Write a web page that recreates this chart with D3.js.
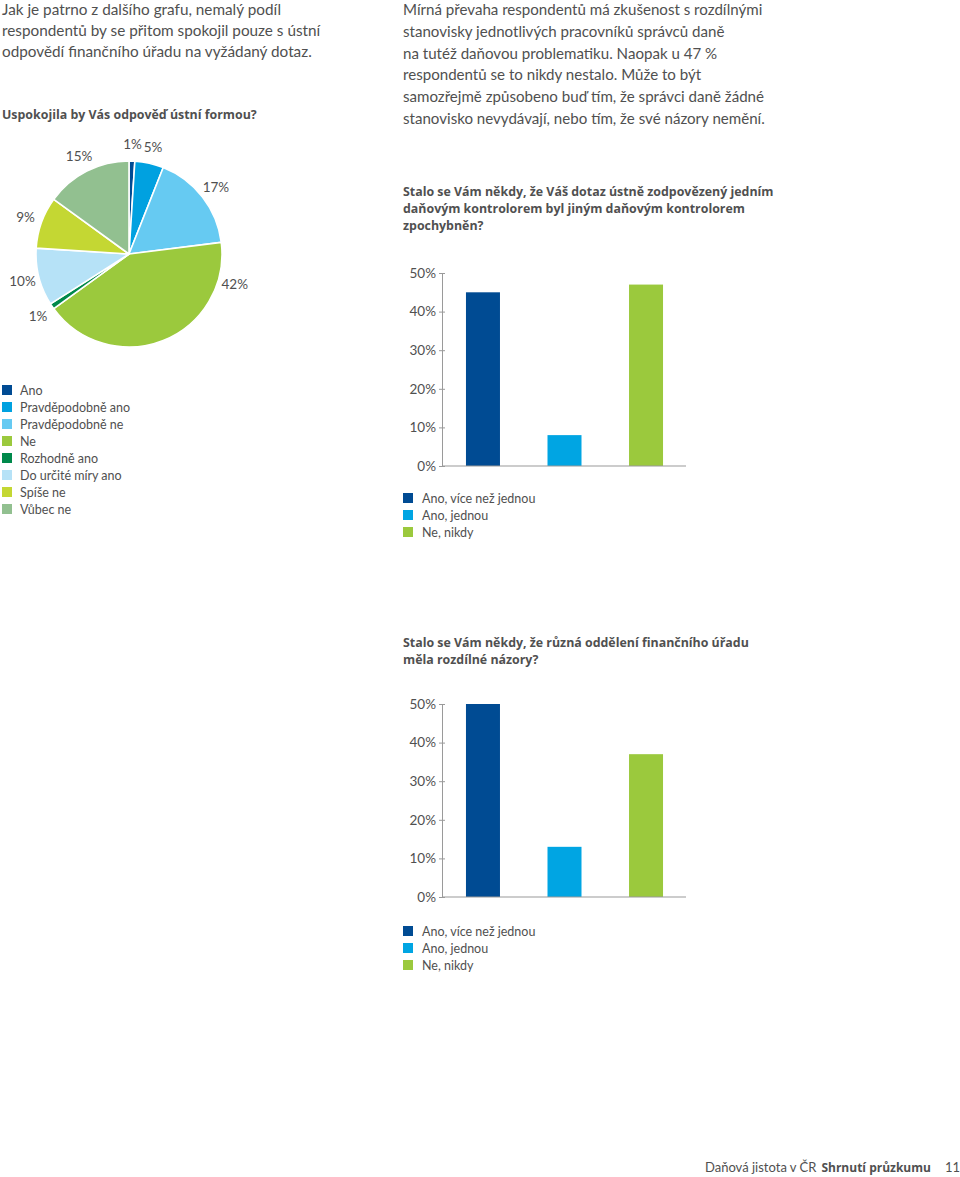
<!DOCTYPE html>
<html><head><meta charset="utf-8">
<script src="https://cdn.jsdelivr.net/npm/d3@7"></script>
<style>
body{margin:0;background:#fff;}
svg{display:block;font-family:Lato,"Open Sans",sans-serif;}
</style></head>
<body>
<svg id="c" width="960" height="1177"></svg>
<script>
// ---- data ----
const pieCategories = ["Ano","Pravděpodobně ano","Pravděpodobně ne","Ne","Rozhodně ano","Do určité míry ano","Spíše ne","Vůbec ne"];
const pieValues = [1,5,17,42,1,10,9,15];
const barCategories = ["Ano, více než jednou","Ano, jednou","Ne, nikdy"];
const bar1Values = [45,8,47];
const bar2Values = [50,13,37];
const yTickValues = [0,10,20,30,40,50];

const introLeft = ["Jak je patrno z dalšího grafu, nemalý podíl","respondentů by se přitom spokojil pouze s ústní","odpovědí finančního úřadu na vyžádaný dotaz."];
const pieTitle = "Uspokojila by Vás odpověď ústní formou?";
const introRight = ["Mírná převaha respondentů má zkušenost s rozdílnými","stanovisky jednotlivých pracovníků správců daně","na tutéž daňovou problematiku. Naopak u 47 %","respondentů se to nikdy nestalo. Může to být","samozřejmě způsobeno buď tím, že správci daně žádné","stanovisko nevydávají, nebo tím, že své názory nemění."];
const bar1Title = ["Stalo se Vám někdy, že Váš dotaz ústně zodpovězený jedním","daňovým kontrolorem byl jiným daňovým kontrolorem","zpochybněn?"];
const bar2Title = ["Stalo se Vám někdy, že různá oddělení finančního úřadu","měla rozdílné názory?"];

// ---- styles ----
const pieColors = ["#004b93","#00a1e0","#66caf2","#9bc93d","#00894b","#b6e2f7","#c4d733","#92c090"];
const barColors = ["#004b93","#00a5e3","#9bc93d"];
const textColor = "#505050";
const boldFont = '"Open Sans","Noto Sans",sans-serif';
const labelAngleOverride = [null,null,null,106,null,null,null,null]; // degrees

const svg = d3.select("#c");

function textLines(lines, x, y0, dy, size, weight){
  const g = svg.append("g");
  lines.forEach((t,i)=>{
    const tx = g.append("text").attr("x",x).attr("y",y0+i*dy).attr("font-size",size)
      .attr("font-weight",weight).attr("fill",textColor).text(t);
    if (weight===700) tx.attr("font-family",boldFont);
  });
  return g;
}

textLines(introLeft, 2, 15, 21, 15.3, 400);
textLines([pieTitle], 2, 119, 17, 12.4, 700);
textLines(introRight, 403, 15, 21.8, 15.1, 400);

// ---- pie ----
const cx = 129, cy = 254, R = 93;
const pie = d3.pie().sort(null).value(d=>d)(pieValues);
const arc = d3.arc().innerRadius(0).outerRadius(R);
const pg = svg.append("g").attr("transform",`translate(${cx},${cy})`);
pg.selectAll("path").data(pie).join("path")
  .attr("d",arc).attr("fill",(d,i)=>pieColors[i])
  .attr("stroke","#fff").attr("stroke-width",1.6).attr("stroke-linejoin","round");
pg.selectAll("text").data(pie).join("text")
  .attr("transform",(d,i)=>{
    const a = labelAngleOverride[i]!=null ? labelAngleOverride[i]*Math.PI/180 : (d.startAngle+d.endAngle)/2;
    const r = 110;
    return `translate(${r*Math.sin(a)},${-r*Math.cos(a)})`;
  })
  .attr("text-anchor","middle").attr("dominant-baseline","central")
  .attr("font-size",13.5).attr("fill",textColor)
  .text(d=>d.data+"%");

// pie legend
const lg = svg.append("g");
pieCategories.forEach((c,i)=>{
  const y = 390 + i*17;
  lg.append("rect").attr("x",2).attr("y",y-5).attr("width",10).attr("height",10).attr("fill",pieColors[i]);
  lg.append("text").attr("x",20).attr("y",y).attr("dominant-baseline","central")
    .attr("font-size",12.5).attr("fill",textColor).text(c);
});

// ---- bar charts ----
function barChart(values, yTop, yBottom, titleLines, titleY, legendY){
  textLines(titleLines, 403, titleY, 17, 12.4, 700);
  const x = d3.scaleBand().domain(barCategories).range([442,687]).paddingInner(0.583).paddingOuter(0.294);
  const y = d3.scaleLinear().domain([0,50]).range([yBottom,yTop]);
  const g = svg.append("g");
  g.selectAll("rect").data(values).join("rect")
    .attr("x",(d,i)=>x(barCategories[i])).attr("width",x.bandwidth())
    .attr("y",d=>y(d)).attr("height",d=>y(0)-y(d)).attr("fill",(d,i)=>barColors[i]);
  const ax = g.append("g").attr("transform","translate(442,0)")
    .call(d3.axisLeft(y).tickValues(yTickValues).tickFormat(d=>d+"%").tickSizeOuter(0).tickSizeInner(3).tickPadding(3));
  ax.select(".domain").attr("stroke","#9a9a9a");
  ax.selectAll(".tick line").attr("x1",-3).attr("x2",3).attr("stroke","#9a9a9a");
  ax.selectAll(".tick text").attr("font-size",13.5).attr("fill",textColor)
    .attr("font-family",'Lato,"Open Sans",sans-serif');
  g.append("line").attr("x1",442).attr("x2",686).attr("y1",y(0)).attr("y2",y(0))
    .attr("stroke","#9a9a9a").attr("stroke-width",1.2);
  const lgd = svg.append("g");
  barCategories.forEach((c,i)=>{
    const yy = legendY + i*17;
    lgd.append("rect").attr("x",403).attr("y",yy-5).attr("width",10).attr("height",10).attr("fill",barColors[i]);
    lgd.append("text").attr("x",422).attr("y",yy).attr("dominant-baseline","central")
      .attr("font-size",12.5).attr("fill",textColor).text(c);
  });
}
barChart(bar1Values, 273, 466, bar1Title, 196, 498);
barChart(bar2Values, 704, 897, bar2Title, 647, 931);

// ---- footer ----
const ft = svg.append("text").attr("y",1172).attr("font-size",13).attr("fill",textColor);
ft.append("tspan").attr("x",705).text("Daňová jistota v ČR");
ft.append("tspan").attr("dx",5).attr("font-weight",700).attr("font-family",boldFont).attr("font-size",12).text("Shrnutí průzkumu");
svg.append("text").attr("x",960).attr("y",1172).attr("text-anchor","end").attr("font-size",13).attr("fill",textColor).text("11");
</script>
</body></html>
